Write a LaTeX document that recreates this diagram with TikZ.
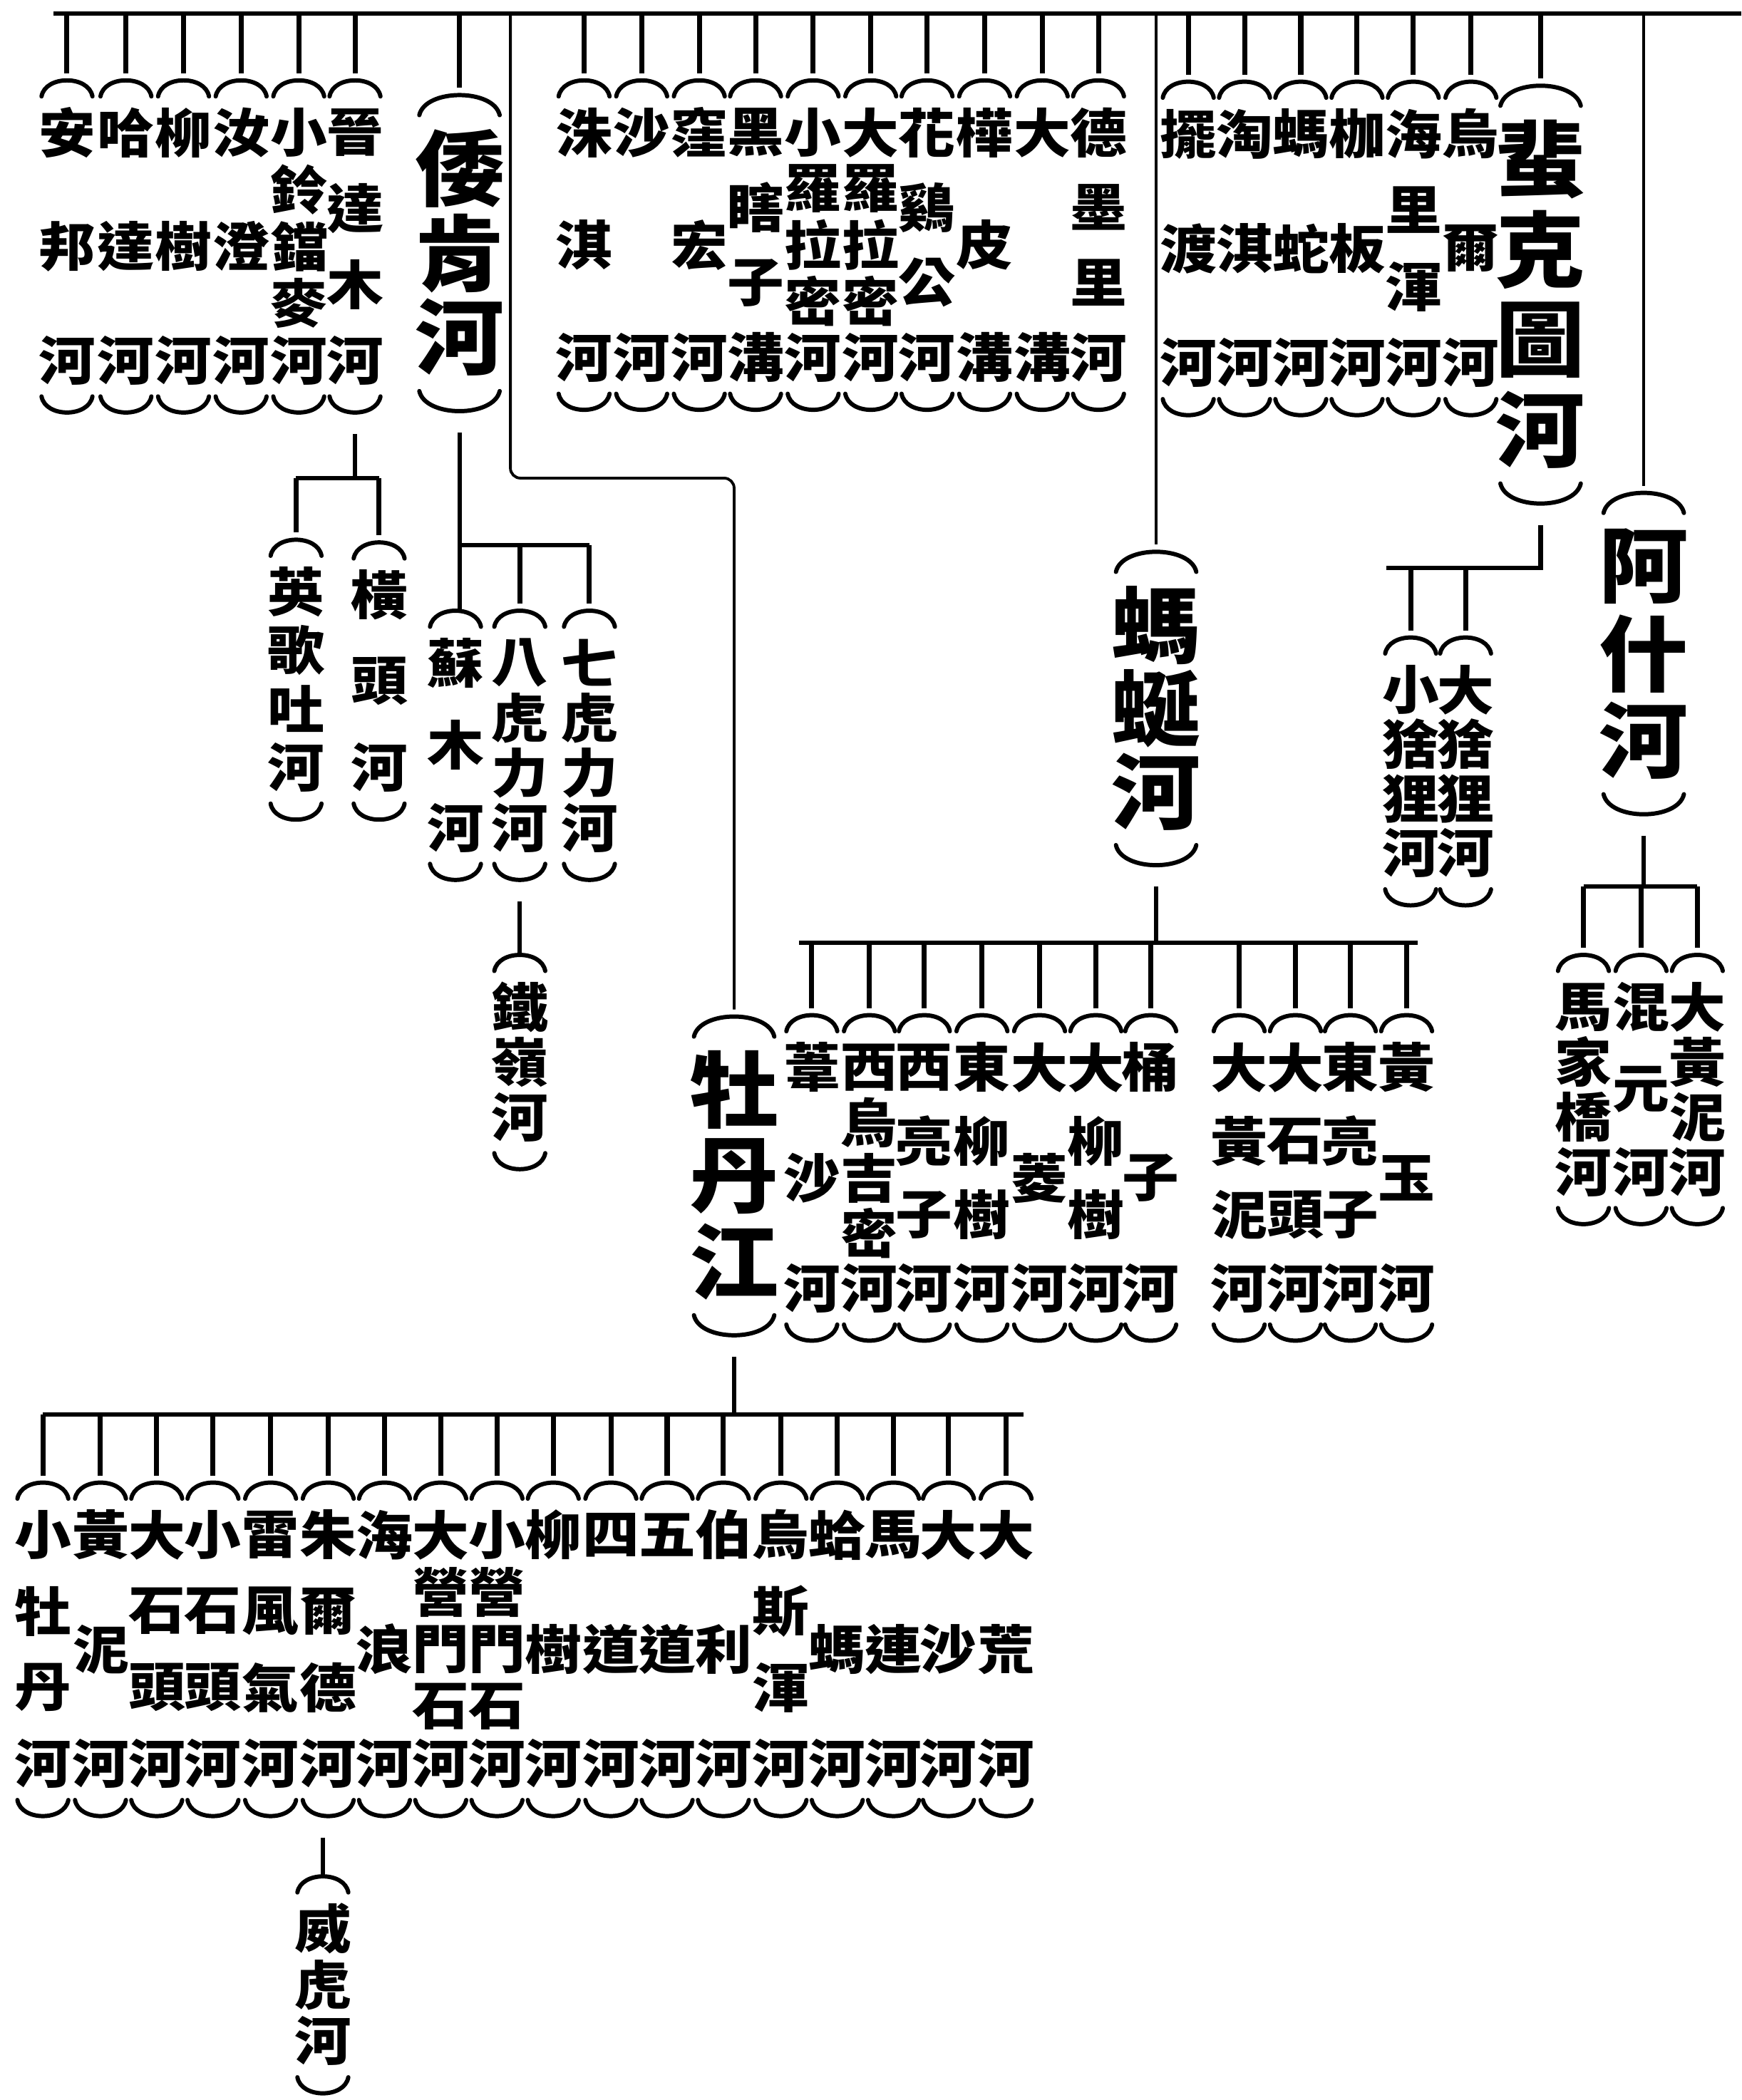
\documentclass[tikz,border=0pt]{standalone}
\usepackage{fontspec}
\newfontfamily\cjk{Noto Sans CJK TC}[FakeStretch=1.08]
\usetikzlibrary{positioning}

% one river: glyphs spread evenly from the first to the last y, brackets above and below
\newcommand{\rivcol}[9]{%
  \foreach \g [count=\k] in {#9} {\xdef\rivn{\k}}%
  \foreach \g [count=\k] in {#9}
    {\node[#1] (#5-\k) at (#6,{#7+(\k-1)*(#8-#7)/(\rivn-1)}) {\g};}%
  \node[colbox, minimum height={(#8-#7+2*#4)*0.18792mm}] (#5) at (#6,{(#7+#8)/2}) {};%
  \draw[bracket, shift={(#5.north)}] (-#2,#3) .. controls ({-0.85*#2},{-#3/3}) and ({0.85*#2},{-#3/3}) .. (#2,#3);%
  \draw[bracket, shift={(#5.south)}] (-#2,-#3) .. controls ({-0.85*#2},{#3/3}) and ({0.85*#2},{#3/3}) .. (#2,-#3);%
}
\newcommand{\smallriver}[5]{\rivcol{glyph}{19}{12}{39}{#1}{#2}{#3}{#4}{#5}}
\newcommand{\bigriver}[5]{\rivcol{bigglyph}{30}{15}{55}{#1}{#2}{#3}{#4}{#5}}

\begin{document}
\begin{tikzpicture}[
      x=0.18792mm, y=-0.18792mm,
      glyph/.style={inner sep=0pt, font=\fontsize{21}{21}\cjk\bfseries},
      bigglyph/.style={inner sep=0pt, font=\fontsize{33}{33}\cjk\bfseries},
      colbox/.style={inner sep=0pt, outer sep=0pt, minimum width=4mm},
      bracket/.style={line width=1.7pt, line cap=round},
      bar/.style={line width=1.6pt},
      tick/.style={line width=2pt, shorten >=1mm},
      trunk/.style={line width=1.1pt, shorten >=1mm},
      drop/.style={line width=1.8pt, shorten <=3mm},
    ]
    \useasboundingbox (0,0) rectangle (1300,1568);

    % main stream
    \coordinate (main-l) at (40,10);
    \coordinate (main-r) at (1300,10);
    \draw[bar] (main-l) -- (main-r);

    % left group
    \smallriver{anbang}{50}{99}{269}{安,邦,河}
    \smallriver{hada}{94}{99}{269}{哈,達,河}
    \smallriver{liushu}{137}{99}{269}{柳,樹,河}
    \smallriver{rucheng}{180}{99}{269}{汝,澄,河}
    \smallriver{lingdang}{223}{99}{269}{小,鈴,鐺,麥,河}
    \smallriver{jindamu}{265}{99}{269}{晉,達,木,河}
    \bigriver{woken}{343}{126}{252}{倭,肯,河}
    \foreach \r in {anbang,hada,liushu,rucheng,lingdang,jindamu,woken}
      \draw[tick] (\r.north |- main-l) -- (\r.north);

    % under jindamu
    \smallriver{yingge}{221}{442}{573}{英,歌,吐,河}
    \smallriver{hengtou}{283}{444}{573}{橫,頭,河}
    \coordinate (jd-bar) at (0,357);
    \draw[drop] (jindamu.south) -- (jindamu.south |- jd-bar);
    \draw[bar] (yingge.north |- jd-bar) -- (hengtou.north |- jd-bar);
    \foreach \r in {yingge,hengtou}
      \draw[tick] (\r.north |- jd-bar) -- (\r.north);

    % under woken
    \smallriver{sumu}{340}{495}{618}{蘇,木,河}
    \smallriver{bahuli}{388}{495}{618}{八,虎,力,河}
    \smallriver{qihuli}{440}{495}{618}{七,虎,力,河}
    \smallriver{tieling}{388}{752}{834}{鐵,嶺,河}
    \coordinate (wk-bar) at (0,407);
    \draw[drop] (woken.south) -- (woken.south |- sumu.north);
    \draw[bar] (woken.south |- wk-bar) -- (qihuli.north |- wk-bar);
    \foreach \r in {bahuli,qihuli}
      \draw[tick] (\r.north |- wk-bar) -- (\r.north);
    \draw[drop] (bahuli.south) -- (tieling.north);

    % middle group
    \smallriver{zhuqi}{436}{99}{267}{洙,淇,河}
    \smallriver{shahe}{479}{99}{267}{沙,河}
    \smallriver{wahong}{522}{99}{267}{窪,宏,河}
    \smallriver{heixiazi}{564}{99}{267}{黑,瞎,子,溝}
    \smallriver{xiaoluola}{607}{99}{267}{小,羅,拉,密,河}
    \smallriver{daluola}{650}{99}{267}{大,羅,拉,密,河}
    \smallriver{huajigong}{692}{99}{267}{花,鷄,公,河}
    \smallriver{huapi}{735}{99}{267}{樺,皮,溝}
    \smallriver{dagou}{778}{99}{267}{大,溝}
    \smallriver{demoli}{820}{99}{267}{德,墨,里,河}
    \foreach \r in {zhuqi,shahe,wahong,heixiazi,xiaoluola,daluola,huajigong,huapi,dagou,demoli}
      \draw[tick] (\r.north |- main-l) -- (\r.north);

    % right group
    \smallriver{baidu}{887}{100}{271}{擺,渡,河}
    \smallriver{taoqi}{929}{100}{271}{淘,淇,河}
    \smallriver{mashe}{971}{100}{271}{螞,蛇,河}
    \smallriver{jiaban}{1013}{100}{271}{枷,板,河}
    \smallriver{hailihun}{1055}{100}{271}{海,里,渾,河}
    \smallriver{wuer}{1098}{100}{271}{烏,爾,河}
    \bigriver{feiketu}{1150}{119}{321}{蜚,克,圖,河}
    \foreach \r in {baidu,taoqi,mashe,jiaban,hailihun,wuer,feiketu}
      \draw[tick] (\r.north |- main-l) -- (\r.north);

    % under feiketu
    \smallriver{xiaoshe}{1053}{515}{637}{小,猞,狸,河}
    \smallriver{dashe}{1094}{515}{637}{大,猞,狸,河}
    \coordinate (fk-bar) at (1035,424);
    \draw[drop] (feiketu.south) |- (fk-bar);
    \foreach \r in {xiaoshe,dashe}
      \draw[tick] (\r.north |- fk-bar) -- (\r.north);

    % ashi
    \bigriver{ashi}{1227}{423}{553}{阿,什,河}
    \draw[trunk] (ashi.north |- main-l) -- (ashi.north);
    \smallriver{majiaqiao}{1182}{752}{875}{馬,家,橋,河}
    \smallriver{hunyuan}{1225}{752}{875}{混,元,河}
    \smallriver{dahuangni2}{1267}{752}{875}{大,黃,泥,河}
    \coordinate (as-bar) at (0,662);
    \draw[drop] (ashi.south) -- (ashi.south |- as-bar);
    \draw[bar] (majiaqiao.north |- as-bar) -- (dahuangni2.north |- as-bar);
    \foreach \r in {majiaqiao,hunyuan,dahuangni2}
      \draw[tick] (\r.north |- as-bar) -- (\r.north);

    % mayan
    \bigriver{mayan}{863}{467}{591}{螞,蜒,河}
    \draw[trunk] (mayan.north |- main-l) -- (mayan.north);
    \smallriver{weisha}{606}{797}{962}{葦,沙,河}
    \smallriver{xiwuji}{649}{797}{962}{西,烏,吉,密,河}
    \smallriver{xiliang}{690}{797}{962}{西,亮,子,河}
    \smallriver{dongliu}{733}{797}{962}{東,柳,樹,河}
    \smallriver{daling}{776}{797}{962}{大,菱,河}
    \smallriver{daliu}{818}{797}{962}{大,柳,樹,河}
    \smallriver{tongzi}{859}{797}{962}{桶,子,河}
    \smallriver{dahuangni1}{925}{797}{962}{大,黃,泥,河}
    \smallriver{dashitou1}{967}{797}{962}{大,石,頭,河}
    \smallriver{dongliang}{1008}{797}{962}{東,亮,子,河}
    \smallriver{huangyu}{1050}{797}{962}{黃,玉,河}
    \coordinate (my-bar) at (0,704);
    \draw[drop] (mayan.south) -- (mayan.south |- my-bar);
    \draw[bar, shorten <=-1.8mm, shorten >=-1.6mm] (weisha.north |- my-bar) -- (huangyu.north |- my-bar);
    \foreach \r in {weisha,xiwuji,xiliang,dongliu,daling,daliu,tongzi,dahuangni1,dashitou1,dongliang,huangyu}
      \draw[tick] (\r.north |- my-bar) -- (\r.north);

    % mudan
    \bigriver{mudan}{548}{814}{942}{牡,丹,江}
    \coordinate (md-bend) at (381,357);
    \draw[trunk, rounded corners=4pt] (md-bend |- main-l) -- (md-bend) -| (mudan.north);
    \smallriver{xiaomudan}{32}{1146}{1317}{小,牡,丹,河}
    \smallriver{huangni}{75}{1146}{1317}{黃,泥,河}
    \smallriver{dashitou2}{117}{1146}{1317}{大,石,頭,河}
    \smallriver{xiaoshitou}{159}{1146}{1317}{小,石,頭,河}
    \smallriver{leifeng}{202}{1146}{1317}{雷,風,氣,河}
    \smallriver{zhuerde}{245}{1146}{1317}{朱,爾,德,河}
    \smallriver{hailang}{287}{1146}{1317}{海,浪,河}
    \smallriver{dayingmen}{329}{1146}{1317}{大,營,門,石,河}
    \smallriver{xiaoyingmen}{371}{1146}{1317}{小,營,門,石,河}
    \smallriver{mdliushu}{413}{1146}{1317}{柳,樹,河}
    \smallriver{sidao}{456}{1146}{1317}{四,道,河}
    \smallriver{wudao}{498}{1146}{1317}{五,道,河}
    \smallriver{boli}{540}{1146}{1317}{伯,利,河}
    \smallriver{wusihun}{583}{1146}{1317}{烏,斯,渾,河}
    \smallriver{hama}{625}{1146}{1317}{蛤,螞,河}
    \smallriver{malian}{667}{1146}{1317}{馬,連,河}
    \smallriver{dasha}{708}{1146}{1317}{大,沙,河}
    \smallriver{dahuang}{751}{1146}{1317}{大,荒,河}
    \coordinate (md-bar) at (0,1056);
    \draw[drop] (mudan.south) -- (mudan.south |- md-bar);
    \draw[bar, shorten >=-2.4mm] (xiaomudan.north |- md-bar) -- (dahuang.north |- md-bar);
    \foreach \r in {xiaomudan,huangni,dashitou2,xiaoshitou,leifeng,zhuerde,hailang,dayingmen,xiaoyingmen,mdliushu,sidao,wudao,boli,wusihun,hama,malian,dasha,dahuang}
      \draw[tick] (\r.north |- md-bar) -- (\r.north);

    % under zhuerde
    \smallriver{weihu}{241}{1440}{1524}{威,虎,河}
    \draw[drop] (weihu.north |- zhuerde.south) -- (weihu.north);
  \end{tikzpicture}
\end{document}
